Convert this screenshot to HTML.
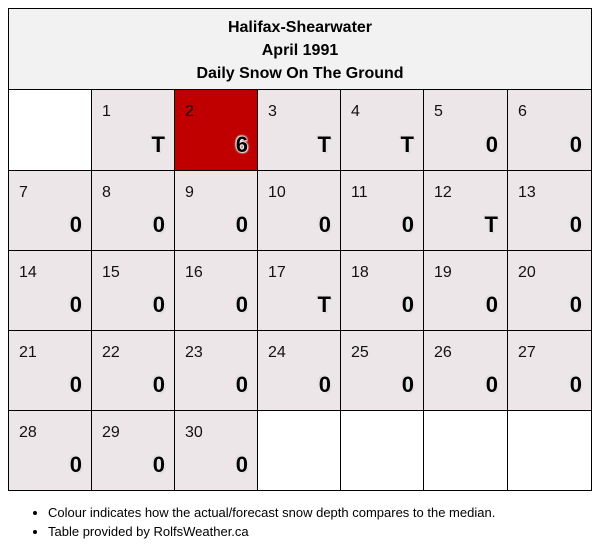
<!DOCTYPE html>
<html><head><meta charset="utf-8">
<style>
body{margin:0;width:600px;height:553px;background:#fff;font-family:"Liberation Sans","DejaVu Sans",sans-serif;position:relative;overflow:hidden}
#hdr{position:absolute;left:8px;top:8px;width:582px;border:1px solid #000;background:#f2f2f2;text-align:center;font-weight:bold;font-size:16px;line-height:23px;padding-top:7px;box-sizing:content-box;height:74px}
.cell{position:absolute;border:1px solid #000;box-sizing:border-box;background:#fff}
.day{position:absolute;left:10px;top:13px;font-size:16px;color:#111}
.val{position:absolute;right:9px;bottom:12px;font-size:22px;font-weight:bold;color:#000;text-shadow:0 0 2px #fff,0 0 2px #fff,0 0 3px #ddd,1px 1px 1px #bbb,-1px -1px 1px #bbb}
ul{position:absolute;left:28px;top:503px;margin:0;padding-left:20px;font-size:13px;line-height:19px;color:#000}
</style></head><body>
<div id="hdr">Halifax-Shearwater<br>April 1991<br>Daily Snow On The Ground</div>
<div id="grid"></div>
<ul>
<li>Colour indicates how the actual/forecast snow depth compares to the median.</li>
<li>Table provided by RolfsWeather.ca</li>
</ul>
<script>
const days=[1,2,3,4,5,6,7,8,9,10,11,12,13,14,15,16,17,18,19,20,21,22,23,24,25,26,27,28,29,30];
const values=["T","6","T","T","0","0","0","0","0","0","0","T","0","0","0","0","T","0","0","0","0","0","0","0","0","0","0","0","0","0"];
const aboveMedian=[false,true,false,false,false,false,false,false,false,false,false,false,false,false,false,false,false,false,false,false,false,false,false,false,false,false,false,false,false,false];
const firstWeekday=1;
const colX=[8,91,174,257,340,423,507,591];
const rowY=[89,170,250,330,410,490];
const grid=document.getElementById('grid');
for(let i=0;i<35;i++){
  const r=Math.floor(i/7),c=i%7;
  const el=document.createElement('div');
  el.className='cell';
  el.style.left=colX[c]+'px';el.style.top=rowY[r]+'px';
  el.style.width=(colX[c+1]-colX[c]+1)+'px';el.style.height=(rowY[r+1]-rowY[r]+1)+'px';
  const d=i-firstWeekday;
  if(d>=0&&d<days.length){
    el.style.background=aboveMedian[d]?'#c00000':'#ede6e8';
    
    
    el.innerHTML='<span class="day">'+days[d]+'</span><span class="val">'+values[d]+'</span>';
  } else {
    
    
  }
  grid.appendChild(el);
}
</script>
</body></html>
